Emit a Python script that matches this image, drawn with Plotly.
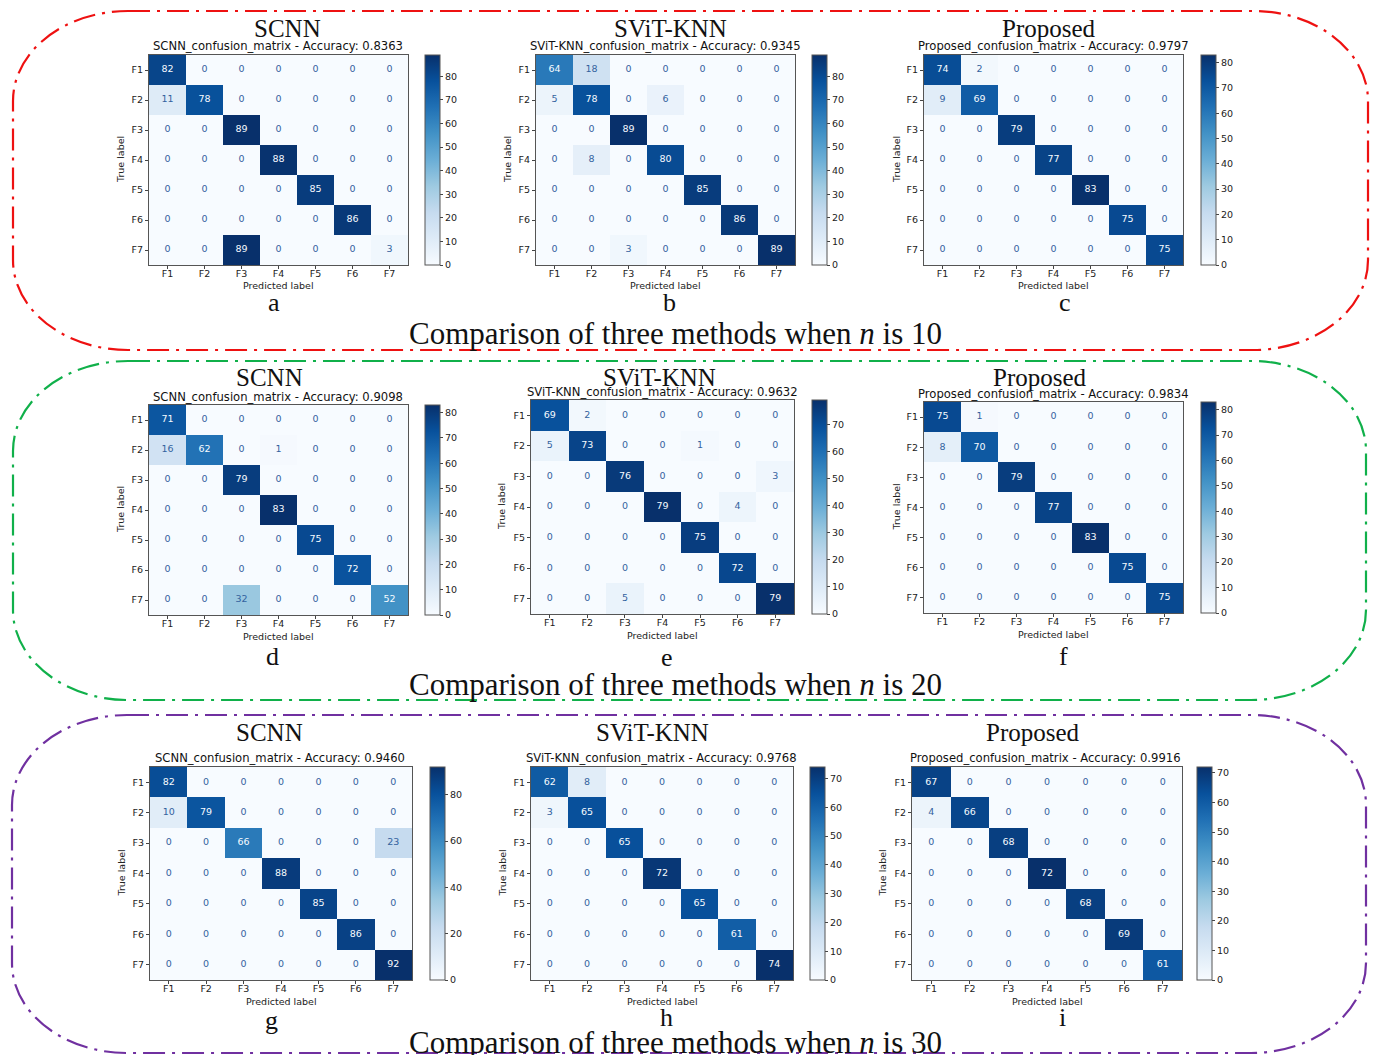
import plotly.graph_objects as go

# ---------------- data ----------------
LABELS = ["F1", "F2", "F3", "F4", "F5", "F6", "F7"]
METHODS = ["SCNN", "SViT-KNN", "Proposed"]
N_VALUES = [10, 20, 30]
PANEL_LETTERS = ["a", "b", "c", "d", "e", "f", "g", "h", "i"]

ACC_N10 = [0.8363, 0.9345, 0.9797]
ACC_N20 = [0.9098, 0.9632, 0.9834]
ACC_N30 = [0.9460, 0.9768, 0.9916]

CM_SCNN_N10 = [[82, 0, 0, 0, 0, 0, 0],
               [11, 78, 0, 0, 0, 0, 0],
               [0, 0, 89, 0, 0, 0, 0],
               [0, 0, 0, 88, 0, 0, 0],
               [0, 0, 0, 0, 85, 0, 0],
               [0, 0, 0, 0, 0, 86, 0],
               [0, 0, 89, 0, 0, 0, 3]]
CM_SVIT_N10 = [[64, 18, 0, 0, 0, 0, 0],
               [5, 78, 0, 6, 0, 0, 0],
               [0, 0, 89, 0, 0, 0, 0],
               [0, 8, 0, 80, 0, 0, 0],
               [0, 0, 0, 0, 85, 0, 0],
               [0, 0, 0, 0, 0, 86, 0],
               [0, 0, 3, 0, 0, 0, 89]]
CM_PROP_N10 = [[74, 2, 0, 0, 0, 0, 0],
               [9, 69, 0, 0, 0, 0, 0],
               [0, 0, 79, 0, 0, 0, 0],
               [0, 0, 0, 77, 0, 0, 0],
               [0, 0, 0, 0, 83, 0, 0],
               [0, 0, 0, 0, 0, 75, 0],
               [0, 0, 0, 0, 0, 0, 75]]
CM_SCNN_N20 = [[71, 0, 0, 0, 0, 0, 0],
               [16, 62, 0, 1, 0, 0, 0],
               [0, 0, 79, 0, 0, 0, 0],
               [0, 0, 0, 83, 0, 0, 0],
               [0, 0, 0, 0, 75, 0, 0],
               [0, 0, 0, 0, 0, 72, 0],
               [0, 0, 32, 0, 0, 0, 52]]
CM_SVIT_N20 = [[69, 2, 0, 0, 0, 0, 0],
               [5, 73, 0, 0, 1, 0, 0],
               [0, 0, 76, 0, 0, 0, 3],
               [0, 0, 0, 79, 0, 4, 0],
               [0, 0, 0, 0, 75, 0, 0],
               [0, 0, 0, 0, 0, 72, 0],
               [0, 0, 5, 0, 0, 0, 79]]
CM_PROP_N20 = [[75, 1, 0, 0, 0, 0, 0],
               [8, 70, 0, 0, 0, 0, 0],
               [0, 0, 79, 0, 0, 0, 0],
               [0, 0, 0, 77, 0, 0, 0],
               [0, 0, 0, 0, 83, 0, 0],
               [0, 0, 0, 0, 0, 75, 0],
               [0, 0, 0, 0, 0, 0, 75]]
CM_SCNN_N30 = [[82, 0, 0, 0, 0, 0, 0],
               [10, 79, 0, 0, 0, 0, 0],
               [0, 0, 66, 0, 0, 0, 23],
               [0, 0, 0, 88, 0, 0, 0],
               [0, 0, 0, 0, 85, 0, 0],
               [0, 0, 0, 0, 0, 86, 0],
               [0, 0, 0, 0, 0, 0, 92]]
CM_SVIT_N30 = [[62, 8, 0, 0, 0, 0, 0],
               [3, 65, 0, 0, 0, 0, 0],
               [0, 0, 65, 0, 0, 0, 0],
               [0, 0, 0, 72, 0, 0, 0],
               [0, 0, 0, 0, 65, 0, 0],
               [0, 0, 0, 0, 0, 61, 0],
               [0, 0, 0, 0, 0, 0, 74]]
CM_PROP_N30 = [[67, 0, 0, 0, 0, 0, 0],
               [4, 66, 0, 0, 0, 0, 0],
               [0, 0, 68, 0, 0, 0, 0],
               [0, 0, 0, 72, 0, 0, 0],
               [0, 0, 0, 0, 68, 0, 0],
               [0, 0, 0, 0, 0, 69, 0],
               [0, 0, 0, 0, 0, 0, 61]]

MATRICES = [CM_SCNN_N10, CM_SVIT_N10, CM_PROP_N10,
            CM_SCNN_N20, CM_SVIT_N20, CM_PROP_N20,
            CM_SCNN_N30, CM_SVIT_N30, CM_PROP_N30]
ACCURACIES = ACC_N10 + ACC_N20 + ACC_N30

# ---------------- layout / style ----------------
W, H = 1376, 1055


def fx(x):
    return x / W


def fy(y):
    return 1 - y / H


BLUES = ['rgb(247,251,255)', 'rgb(222,235,247)', 'rgb(198,219,239)',
         'rgb(158,202,225)', 'rgb(107,174,214)', 'rgb(66,146,198)',
         'rgb(33,113,181)', 'rgb(8,81,156)', 'rgb(8,48,107)']
COLORSCALE = [[i / (len(BLUES) - 1), c] for i, c in enumerate(BLUES)]

SANS = "DejaVu Sans"
SERIF = "Liberation Serif"
SMALL = 9.5

# (left, right, top, bottom) of heatmap box; colorbar left; title (x,y);
# subtitle (x,y); letter (x,y); ylabel x; xlabel y; colorbar dtick
PANELS = [
    dict(box=(149, 408, 55, 265), cb=425, title=(287, 28), sub=(278, 46), let=(274, 302), yl=120, xl=285, dt=10),
    dict(box=(536, 795, 55, 265), cb=812, title=(670, 28), sub=(665, 46), let=(669, 302), yl=507, xl=285, dt=10),
    dict(box=(924, 1183, 55, 265), cb=1201, title=(1049, 28), sub=(1053, 46), let=(1065, 302), yl=896, xl=285, dt=10),
    dict(box=(149, 408, 405, 615), cb=425, title=(269, 378), sub=(278, 397), let=(272, 656), yl=120, xl=636, dt=10),
    dict(box=(531, 794, 400, 614), cb=812, title=(659, 377), sub=(662, 392), let=(667, 657), yl=502, xl=635, dt=10),
    dict(box=(924, 1183, 402, 613), cb=1201, title=(1040, 378), sub=(1053, 394), let=(1063, 656), yl=896, xl=634, dt=10),
    dict(box=(150, 412, 767, 980), cb=430, title=(269, 732), sub=(280, 758), let=(271, 1020), yl=121, xl=1001, dt=20),
    dict(box=(531, 793, 767, 980), cb=810, title=(652, 732), sub=(661, 758), let=(666, 1017), yl=502, xl=1001, dt=10),
    dict(box=(912, 1182, 767, 980), cb=1197, title=(1033, 732), sub=(1045, 758), let=(1062, 1017), yl=882, xl=1001, dt=10),
]

fig = go.Figure()
annotations = []
layout_axes = {}

for idx, (cm, p) in enumerate(zip(MATRICES, PANELS)):
    k = idx + 1
    xa = "x" if k == 1 else f"x{k}"
    ya = "y" if k == 1 else f"y{k}"
    xkey = "xaxis" if k == 1 else f"xaxis{k}"
    ykey = "yaxis" if k == 1 else f"yaxis{k}"
    l, r, t, b = p["box"]
    method = METHODS[idx % 3]
    zmax = max(max(row) for row in cm)
    zmin = min(min(row) for row in cm)

    fig.add_trace(go.Heatmap(
        z=cm, x=LABELS, y=LABELS, xaxis=xa, yaxis=ya,
        colorscale=COLORSCALE, zmin=zmin, zmax=zmax,
        hoverinfo="skip",
        colorbar=dict(
            x=fx(p["cb"]), xanchor="left", xpad=0, xref="paper",
            y=fy((t + b) / 2), yanchor="middle", ypad=0, yref="paper",
            len=b - t, lenmode="pixels",
            thickness=15, thicknessmode="pixels",
            outlinewidth=1, outlinecolor="#555",
            ticks="outside", ticklen=3, tickcolor="#444",
            tick0=0, dtick=p["dt"],
            tickfont=dict(family=SANS, size=SMALL, color="#222"),
        ),
    ))

    # cell value text
    thresh = (zmax + zmin) / 2
    xs, ys, txt, cols = [], [], [], []
    for i, row in enumerate(cm):
        for j, v in enumerate(row):
            xs.append(LABELS[j])
            ys.append(LABELS[i])
            txt.append(str(v))
            cols.append("#f7fbff" if v >= thresh else "#33629e")
    fig.add_trace(go.Scatter(
        x=xs, y=ys, text=txt, mode="text", xaxis=xa, yaxis=ya,
        textposition="middle center",
        textfont=dict(family=SANS, size=SMALL, color=cols),
        hoverinfo="skip", showlegend=False,
    ))

    common = dict(showline=True, mirror=True, linecolor="#555", linewidth=1,
                  ticks="outside", ticklen=3, tickcolor="#444",
                  tickfont=dict(family=SANS, size=SMALL, color="#222"),
                  showgrid=False, zeroline=False, fixedrange=True)
    layout_axes[xkey] = dict(domain=[fx(l), fx(r)], anchor=ya,
                             ticklabelstandoff=-3, **common)
    layout_axes[ykey] = dict(domain=[fy(b), fy(t)], anchor=xa,
                             autorange="reversed", **common)

    # titles & labels
    annotations.append(dict(text=method, x=fx(p["title"][0]), y=fy(p["title"][1]),
                            font=dict(family=SERIF, size=25, color="#111")))
    annotations.append(dict(text=f"{method}_confusion_matrix - Accuracy: {ACCURACIES[idx]:.4f}",
                            x=fx(p["sub"][0]), y=fy(p["sub"][1]),
                            font=dict(family=SANS, size=11.6, color="#111")))
    annotations.append(dict(text=PANEL_LETTERS[idx], x=fx(p["let"][0]), y=fy(p["let"][1]),
                            font=dict(family=SERIF, size=26, color="#111")))
    annotations.append(dict(text="True label", x=fx(p["yl"]), y=fy((t + b) / 2),
                            textangle=-90, font=dict(family=SANS, size=SMALL, color="#222")))
    annotations.append(dict(text="Predicted label", x=fx((l + r) / 2), y=fy(p["xl"]),
                            font=dict(family=SANS, size=SMALL, color="#222")))

# group captions
CAPTION_Y = [334, 684, 1042]
for n, cy in zip(N_VALUES, CAPTION_Y):
    annotations.append(dict(text=f"Comparison of three methods when <i>n</i> is {n}",
                            x=fx(675), y=fy(cy),
                            font=dict(family=SERIF, size=31, color="#111")))

for a in annotations:
    a.update(xref="paper", yref="paper", showarrow=False,
             xanchor="center", yanchor="middle")


# rounded dash-dot group frames
def rounded_rect(x0, y0, x1, y1, rx, ry):
    k = 0.5523
    P = lambda x, y: f"{fx(x):.5f},{fy(y):.5f}"
    return (f"M {P(x0 + rx, y0)} L {P(x1 - rx, y0)} "
            f"C {P(x1 - rx + k * rx, y0)} {P(x1, y0 + ry - k * ry)} {P(x1, y0 + ry)} "
            f"L {P(x1, y1 - ry)} "
            f"C {P(x1, y1 - ry + k * ry)} {P(x1 - rx + k * rx, y1)} {P(x1 - rx, y1)} "
            f"L {P(x0 + rx, y1)} "
            f"C {P(x0 + rx - k * rx, y1)} {P(x0, y1 - ry + k * ry)} {P(x0, y1 - ry)} "
            f"L {P(x0, y0 + ry)} "
            f"C {P(x0, y0 + ry - k * ry)} {P(x0 + rx - k * rx, y0)} {P(x0 + rx, y0)} Z")


FRAMES = [((13, 11, 1368, 350), "#ee1111"),
          ((13, 361, 1366, 700), "#10b04a"),
          ((12, 715, 1366, 1053), "#7030a0")]
shapes = []
for (x0, y0, x1, y1), col in FRAMES:
    shapes.append(dict(type="path", xref="paper", yref="paper",
                       path=rounded_rect(x0, y0, x1, y1, 115, 90),
                       line=dict(color=col, width=2.2, dash="22px,7px,3px,7px"),
                       fillcolor="rgba(0,0,0,0)", layer="below"))

fig.update_layout(
    width=W, height=H, margin=dict(l=0, r=0, t=0, b=0),
    paper_bgcolor="white", plot_bgcolor="white",
    showlegend=False, annotations=annotations, shapes=shapes,
    **layout_axes,
)

fig.write_html("out.html")
